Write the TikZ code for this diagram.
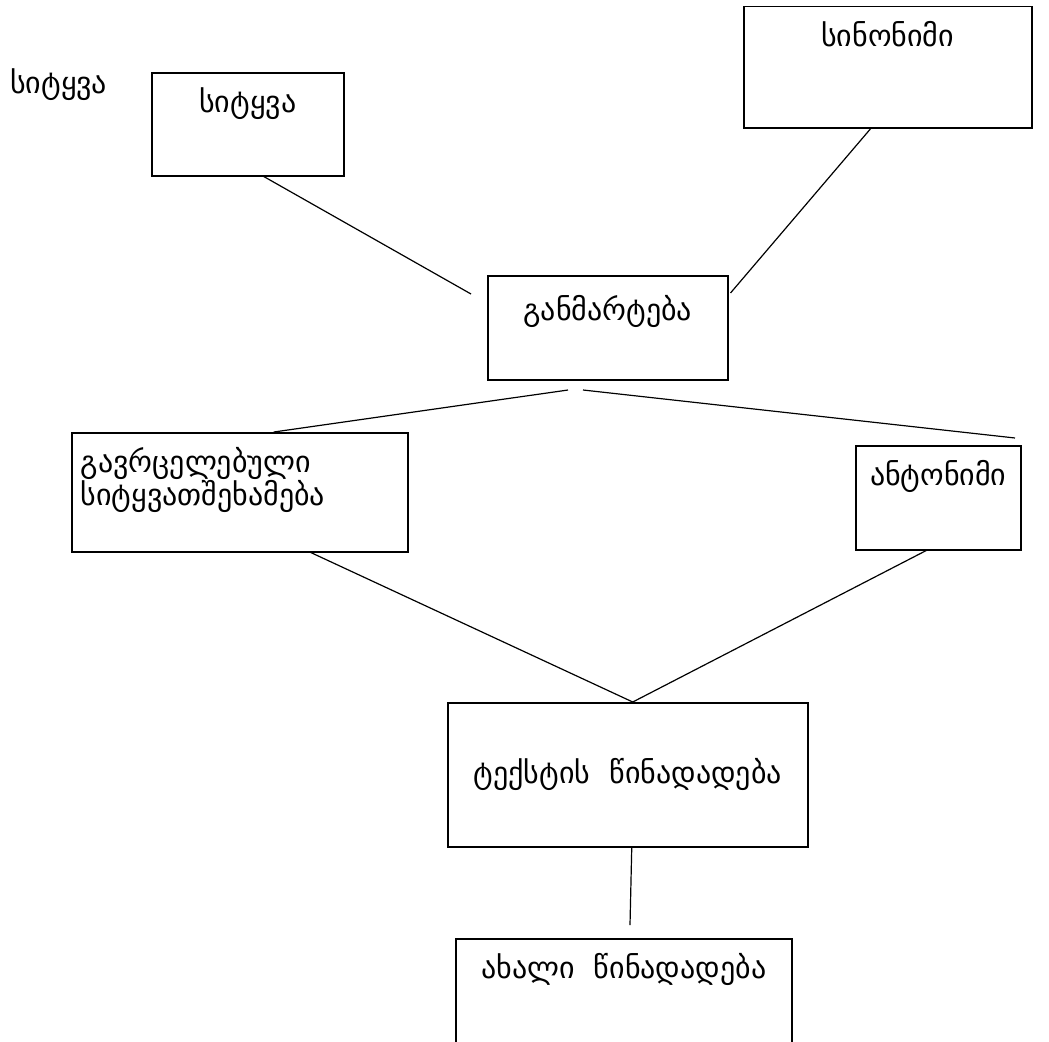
\documentclass[tikz,border=0pt]{standalone}
\usepackage{fontspec}
\setmainfont{DejaVu Sans}
\usetikzlibrary{arrows,%
                shapes,positioning}

\begin{document}
\begin{tikzpicture}[x=1pt,y=-1pt]
\tikzset{wbox/.style={draw,line width=1.5pt,anchor=north west,inner xsep=0pt,inner ysep=10pt,
  text height=30pt,font=\fontsize{30pt}{31pt}\selectfont}}
\tikzset{wline/.style={line width=1.2pt}}
\clip (0,0) rectangle (1049,1041);
\fill[white] (0,0) rectangle (1049,1041);
\node[anchor=west,inner sep=0pt,font=\fontsize{30pt}{31pt}\selectfont] (word) at (10,85) {სიტყვა};
\node[wbox,minimum width=192pt,text depth=53pt] (sitA) at (151,72) {სიტყვა};
\node[wbox,minimum width=288pt,text depth=71pt] (syn) at (743,6) {სინონიმი};
\node[wbox,minimum width=240pt,text height=35pt,text depth=49pt] (def) at (487,275) {განმარტება};
\node[wbox,text width=318pt,inner xsep=9pt,align=left,text height=30pt,text depth=69pt] (gav) at (71,432) {გავრცელებული\\სიტყვათშეხამება};
\node[wbox,minimum width=165pt,text depth=54pt] (ant) at (855,445) {ანტონიმი};
\node[wbox,minimum width=360pt,text height=71pt,text depth=53pt] (tex) at (447,702) {ტექსტის \ წინადადება};
\node[wbox,minimum width=336pt,text depth=120pt] (new) at (455,938) {ახალი \ წინადადება};
\coordinate (c1) at (471,294);
\coordinate (c2) at (568,390);
\coordinate (c3) at (583,390);
\coordinate (c4) at (1015,438);
\coordinate (c5) at (630,925);
\draw[wline] ([xshift=16pt]sitA.south) -- (c1);
\draw[wline] ([xshift=-17pt]syn.south) -- ([xshift=2pt,yshift=-18pt]def.north east);
\draw[wline] (c2) -- ([xshift=34pt]gav.north);
\draw[wline] (c3) -- (c4);
\draw[wline] ([xshift=71pt]gav.south) -- ([xshift=5pt]tex.north);
\draw[wline] ([xshift=-12pt]ant.south) -- ([xshift=5pt]tex.north);
\draw[wline] ([xshift=4pt]tex.south) -- (c5);
\end{tikzpicture}
\end{document}
